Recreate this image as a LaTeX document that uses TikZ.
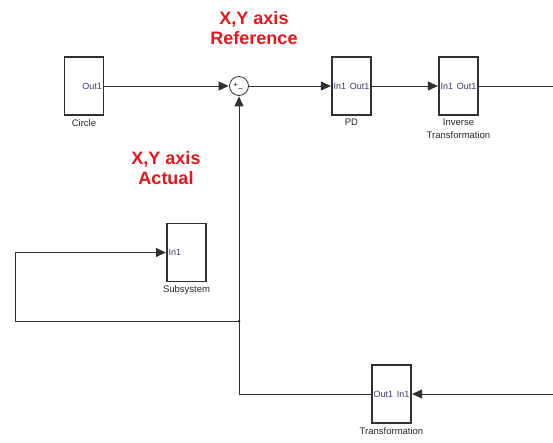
\documentclass[tikz,border=0pt]{standalone}
\usepackage{fontspec}
\setmainfont{Liberation Sans}
\usetikzlibrary{arrows.meta}
\definecolor{portc}{HTML}{3A3A6A}
\definecolor{linec}{HTML}{303030}
\definecolor{titlec}{HTML}{E8161C}
\tikzset{
  blk/.style={draw=linec, line width=1.2pt, minimum width=39pt, minimum height=58pt, inner sep=0pt, fill=white},
  port/.style={font=\fontsize{9}{10}\selectfont, text=portc, inner sep=2pt},
  lbl/.style={font=\fontsize{9.5}{12.5}\selectfont, text=black!85, inner sep=0pt, align=center, anchor=north},
  title/.style={font=\bfseries\fontsize{18}{19.5}\selectfont, text=titlec, align=center, inner sep=0pt},
  wire/.style={draw=linec, line width=0.9pt},
  arr/.style={wire, -{Triangle[length=10pt,width=9pt]}, shorten >=0.5pt},
}
\begin{document}
\begin{tikzpicture}[x=1pt,y=-1pt]
\useasboundingbox (0,0) rectangle (553,442);
% titles
\node[title] (tref) at (254,28) {X,Y axis\\Reference};
\node[title] (tact) at (166,168) {X,Y axis\\Actual};
% blocks
\node[blk] (circ) at (84,86) {};
\node[port, anchor=east] (circo) at (circ.east) {Out1};
\node[lbl] (circl) at ([yshift=-3.5pt]circ.south) {Circle};

\node[draw=linec, line width=0.8pt, circle, minimum size=19pt, inner sep=0pt, fill=white] (sum) at (239,86) {};
\node[font=\fontsize{7.5}{7.5}\selectfont, inner sep=0pt] (sump) at (235.5,85.5) {+};
\node[font=\fontsize{7.5}{7.5}\selectfont, inner sep=0pt] (summ) at (240.5,88) {\_};

\node[blk] (pd) at (351.5,86) {};
\node[port, anchor=west] (pdi) at (pd.west) {In1};
\node[port, anchor=east] (pdo) at (pd.east) {Out1};
\node[lbl] (pdl) at ([yshift=-3.5pt]pd.south) {PD};

\node[blk] (it) at (458.5,86) {};
\node[port, anchor=west] (iti) at (it.west) {In1};
\node[port, anchor=east] (ito) at (it.east) {Out1};
\node[lbl] (itl) at ([yshift=-3.5pt]it.south) {Inverse\\Transformation};

\node[blk] (sub) at (186.5,252.5) {};
\node[port, anchor=west] (subi) at (sub.west) {In1};
\node[lbl] (subl) at ([yshift=-3.5pt]sub.south) {Subsystem};

\node[blk] (tr) at (391.5,394) {};
\node[port, anchor=west] (tro) at (tr.west) {Out1};
\node[port, anchor=east] (tri) at (tr.east) {In1};
\node[lbl] (trl) at ([yshift=-3.5pt]tr.south) {Transformation};

% coordinates
\coordinate (ro) at (553,86);
\coordinate (ri) at (553,394);
\coordinate (j) at (239,321);
\coordinate (jb) at (239,394);
\coordinate (l1) at (15,321);
\coordinate (l2) at (15,252.5);

% wires
\draw[arr] (circ.east) -- (sum.west);
\draw[arr] (sum.east) -- (pd.west);
\draw[arr] (pd.east) -- (it.west);
\draw[wire] (it.east) -- (ro);
\draw[arr] (ri) -- (tr.east);
\draw[arr] (tr.west) -- (jb) -- (sum.south);
\draw[arr] (j) -- (l1) -- (l2) -- (sub.west);
\fill[linec] (j) circle (1.5pt);
\end{tikzpicture}
\end{document}
